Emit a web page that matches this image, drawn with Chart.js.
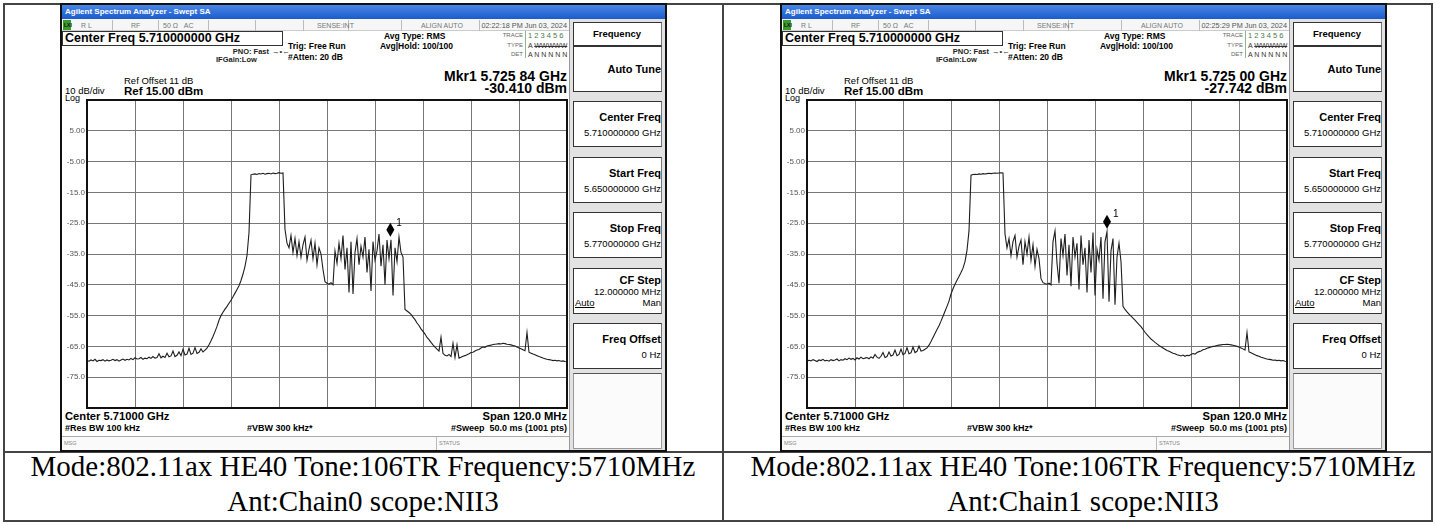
<!DOCTYPE html>
<html>
<head>
<meta charset="utf-8">
<script src="https://cdn.jsdelivr.net/npm/chart.js@4.4.1/dist/chart.umd.min.js"></script>
<style>
  body { margin: 0; background: #fff; width: 1436px; height: 525px; overflow: hidden; position: relative;
         font-family: "Liberation Sans", Arial, sans-serif; }
  .abs { position: absolute; white-space: nowrap; }
  .screen { position: absolute; top: 0; width: 720px; height: 525px; }
  canvas { position: absolute; left: 62px; top: 96px; }
</style>
</head>
<body>
<div class="abs" style="left:3px;top:3px;width:1430px;height:519px;box-sizing:border-box;border:2px solid #444;"></div>
<div class="abs" style="left:722px;top:3px;width:2px;height:519px;background:#444;"></div>
<div class="abs" style="left:3px;top:451px;width:1430px;height:2px;background:#444;"></div>
<div class="screen" id="scr0" style="left:0px"></div>
<div class="screen" id="scr1" style="left:720px"></div>
<script>
const freqStartMHz = 5650;
const freqStepMHz = 0.5;

const chain0Level = [
  -69.6,-69.8,-69.4,-69.7,-69.2,-69.9,-69.5,-69.6,-69.3,-69.8,
  -69.4,-69.7,-69.5,-69.2,-69.6,-69.3,-69.8,-69.4,-69.1,-69.5,
  -69.2,-69.4,-68.9,-69.3,-68.7,-69.1,-69.0,-68.6,-69.2,-68.8,
  -69.0,-68.5,-68.9,-68.3,-68.8,-68.6,-67.4,-68.7,-68.2,-68.6,
  -67.2,-68.4,-68.1,-66.5,-68.3,-67.9,-66.8,-68.0,-65.9,-67.8,
  -67.5,-65.6,-67.6,-67.2,-65.4,-67.3,-66.9,-65.8,-66.8,-66.2,
  -65.6,-64.5,-63.2,-61.8,-60.2,-58.5,-56.5,-55.0,-53.9,-52.9,
  -52.0,-51.0,-50.0,-48.9,-47.7,-46.5,-45.3,-43.6,-41.5,-39.0,
  -35.5,-28.0,-9.3,-9.1,-9.0,-9.2,-8.9,-9.0,-8.8,-9.1,
  -8.9,-8.8,-9.0,-8.7,-8.9,-8.8,-8.6,-8.8,-8.7,-27.0,
  -31.5,-33.0,-29.0,-34.5,-30.0,-35.5,-31.0,-36.0,-32.0,-29.5,
  -37.0,-33.5,-30.5,-36.5,-31.5,-38.5,-33.0,-35.0,-40.0,-44.0,
  -44.5,-44.8,-44.3,-45.0,-34.0,-38.0,-31.5,-36.5,-29.0,-40.0,
  -33.0,-47.5,-31.0,-48.0,-34.5,-30.0,-38.5,-32.5,-36.0,-29.5,
  -41.0,-33.5,-47.0,-31.0,-37.0,-34.0,-28.5,-39.0,-32.0,-45.0,
  -30.5,-36.5,-30.4,-48.5,-33.0,-37.5,-29.5,-34.5,-36.0,-53.0,
  -53.5,-54.0,-54.6,-55.5,-56.3,-57.4,-58.2,-59.3,-60.1,-61.0,
  -62.1,-62.8,-63.7,-64.5,-65.2,-65.9,-66.5,-62.0,-67.3,-67.9,
  -68.1,-67.6,-68.3,-64.0,-68.6,-64.5,-68.8,-68.5,-68.2,-68.0,
  -67.7,-67.4,-67.0,-66.9,-66.5,-66.2,-66.0,-65.5,-65.2,-65.3,
  -64.9,-64.7,-64.6,-64.4,-64.3,-64.2,-64.1,-64.2,-64.0,-64.1,
  -64.3,-64.4,-64.5,-64.7,-64.9,-65.2,-65.5,-65.8,-66.1,-66.4,
  -60.5,-66.9,-67.2,-67.5,-67.7,-68.0,-68.3,-68.5,-68.8,-69.0,
  -69.2,-69.3,-69.4,-69.6,-69.5,-69.7,-69.6,-69.8,-69.7,-69.9,
  -70.0
];

const chain1Level = [
  -69.8,-69.5,-69.7,-69.3,-69.6,-69.9,-69.4,-69.6,-69.2,-69.7,
  -69.5,-69.8,-69.3,-69.6,-69.4,-69.1,-69.7,-69.3,-69.5,-69.0,
  -69.3,-68.8,-69.2,-68.9,-69.4,-68.7,-69.1,-68.5,-69.0,-68.8,
  -68.6,-69.0,-68.4,-68.8,-67.6,-68.5,-68.9,-68.2,-67.0,-68.6,
  -68.3,-66.8,-68.1,-67.8,-66.2,-68.0,-67.6,-65.9,-67.7,-67.3,
  -65.4,-67.4,-67.1,-65.2,-67.0,-66.6,-64.9,-66.5,-66.3,-65.9,
  -65.5,-64.6,-63.4,-62.1,-60.8,-59.5,-58.3,-56.8,-55.2,-53.6,
  -52.0,-50.3,-48.0,-46.3,-44.8,-43.5,-42.3,-41.0,-39.6,-37.5,
  -33.8,-27.5,-9.4,-9.2,-9.1,-9.2,-9.0,-9.1,-8.9,-9.0,
  -8.9,-8.8,-8.9,-8.8,-8.7,-8.8,-8.7,-8.6,-8.7,-28.5,
  -33.0,-30.0,-35.5,-31.0,-29.0,-36.0,-32.5,-30.5,-38.5,-31.0,
  -35.0,-29.5,-37.0,-32.0,-39.0,-33.5,-36.5,-43.0,-44.3,-44.6,
  -44.8,-44.5,-45.0,-31.0,-27.5,-38.0,-44.5,-30.0,-35.5,-28.5,
  -42.0,-32.0,-45.5,-29.5,-36.0,-31.5,-46.5,-29.0,-38.5,-33.0,
  -47.5,-30.5,-41.0,-28.0,-48.5,-33.5,-37.0,-29.5,-49.5,-31.0,
  -27.8,-50.5,-34.0,-30.0,-51.5,-36.0,-31.5,-37.5,-52.0,-53.0,
  -53.8,-54.5,-55.2,-55.8,-56.5,-57.2,-57.9,-58.6,-59.5,-60.4,
  -61.2,-61.9,-62.6,-63.1,-63.7,-64.2,-64.7,-65.1,-65.5,-65.9,
  -66.3,-66.6,-66.9,-67.2,-67.4,-67.7,-67.9,-68.1,-67.8,-68.2,
  -67.9,-68.0,-67.6,-67.3,-67.5,-67.0,-66.7,-66.5,-66.1,-65.9,
  -65.6,-65.4,-65.2,-65.0,-64.9,-64.7,-64.6,-64.5,-64.4,-64.4,
  -64.3,-64.4,-64.5,-64.6,-64.8,-65.0,-65.2,-65.5,-65.8,-66.2,
  -60.5,-66.8,-67.1,-67.4,-67.7,-68.0,-68.2,-68.5,-68.7,-68.9,
  -69.1,-69.2,-69.3,-69.5,-69.4,-69.6,-69.5,-69.7,-69.6,-69.8,
  -69.9
];

const markerFreqMHz = [5725.84, 5725.00];
const markerLevel = [-30.41, -27.742];
const markerFreqText = ['5.725 84 GHz', '5.725 00 GHz'];
const markerLevelText = ['-30.410 dBm', '-27.742 dBm'];
const sweepTime = ['02:22:18 PM Jun 03, 2024', '02:25:29 PM Jun 03, 2024'];
const captionLine1 = ['Mode:802.11ax HE40 Tone:106TR Frequency:5710MHz', 'Mode:802.11ax HE40 Tone:106TR Frequency:5710MHz'];
const captionLine2 = ['Ant:Chain0 scope:NII3', 'Ant:Chain1 scope:NII3'];

function tx(x, yc, size, s, o = {}) {
  const lh = Math.round(size * 1.25);
  const top = Math.round(yc - lh / 2);
  let left = x, w = '', align = 'left';
  if (o.align === 'right') { left = x - 500; w = 'width:500px;'; align = 'right'; }
  if (o.align === 'center') { left = x - 500; w = 'width:1000px;'; align = 'center'; }
  return `<div class="abs" style="left:${left}px;top:${top}px;${w}text-align:${align};font-size:${size}px;line-height:${lh}px;` +
    `font-weight:${o.bold ? 'bold' : 'normal'};color:${o.color || '#000'};${o.css || ''}">${s}</div>`;
}
function box(x, y, w, h, css) {
  return `<div class="abs" style="left:${x}px;top:${y}px;width:${w}px;height:${h}px;box-sizing:border-box;${css}"></div>`;
}

function buildScreen(k) {
  let h = '';
  // frame + title bar
  h += box(60, 3, 607, 449, 'border:2px solid #111;background:#fff;');
  h += box(62, 5, 603, 14, 'background:linear-gradient(#4a86e6,#1a5ccc);');
  h += tx(65, 12, 8, 'Agilent Spectrum Analyzer - Swept SA', { bold: true, color: '#fff' });
  // status row
  h += box(62, 19, 507, 12, 'background:#f6f6f6;border-bottom:1px solid #ccc;');
  h += box(63, 20, 8, 10, 'background:#3a9a2a;');
  h += tx(64, 25, 5, 'LXI', { bold: true, color: '#111' });
  [112, 158, 208, 255, 303, 348, 401, 479].forEach(x => { h += box(x, 20, 1, 11, 'background:#bbb;'); });
  h += tx(81, 25, 7, 'R L', { color: '#777' });
  h += tx(131, 25, 7, 'RF', { color: '#777' });
  h += tx(163, 25, 7, '50 Ω&nbsp;&nbsp;&nbsp;AC', { color: '#777' });
  h += tx(317, 25, 7, 'SENSE:INT', { color: '#777' });
  h += tx(421, 25, 7, 'ALIGN AUTO', { color: '#777' });
  h += tx(567, 25, 7.3, sweepTime[k], { align: 'right', color: '#555' });
  // header texts
  h += box(62, 31, 221, 15, 'border:1px solid #333;');
  h += tx(65, 38, 12.5, 'Center Freq 5.710000000 GHz', { bold: true });
  h += tx(269, 51, 7.5, 'PNO: Fast', { bold: true, align: 'right', color: '#222' });
  h += tx(272, 51, 7.5, '&#8594;&#8226;&#8592;', { color: '#333' });
  h += tx(216, 59, 7.5, 'IFGain:Low', { bold: true, color: '#222' });
  h += tx(288, 46, 8.5, 'Trig: Free Run', { bold: true });
  h += tx(288, 57, 8.5, '#Atten: 20 dB', { bold: true });
  h += tx(384, 36, 8.5, 'Avg Type: RMS', { bold: true });
  h += tx(380, 46, 8.5, 'Avg|Hold: 100/100', { bold: true });
  // trace block
  h += box(525, 31, 1, 27, 'background:#8fb58f;');
  h += tx(523, 35, 6, 'TRACE', { align: 'right', color: '#666' });
  h += tx(523, 45, 6, 'TYPE', { align: 'right', color: '#666' });
  h += tx(523, 54, 6, 'DET', { align: 'right', color: '#666' });
  h += tx(528, 35, 7.5, '1 2 3 4 5 6', { color: '#4a7a4a' });
  h += tx(528, 45, 7, 'A <span style="text-decoration:line-through">WWWWW</span>', { color: '#333' });
  h += tx(528, 54, 7, 'A N N N N N', { color: '#333' });
  // marker readout
  h += tx(567, 76, 14, 'Mkr1 ' + markerFreqText[k], { bold: true, align: 'right' });
  h += tx(567, 88, 14, markerLevelText[k], { bold: true, align: 'right' });
  h += tx(124, 81, 9.5, 'Ref Offset 11 dB');
  h += tx(124, 91, 11.5, 'Ref 15.00 dBm', { bold: true });
  h += tx(65, 91, 9.5, '10 dB/div');
  h += tx(65, 98, 9, 'Log');
  // bottom annotations
  h += tx(65, 416, 11.2, 'Center 5.71000 GHz', { bold: true });
  h += tx(567, 416, 11.2, 'Span 120.0 MHz', { bold: true, align: 'right' });
  h += tx(65, 428, 9, '#Res BW 100 kHz', { bold: true });
  h += tx(247, 428, 9, '#VBW 300 kHz*', { bold: true });
  h += tx(567, 428, 9, '#Sweep&nbsp;&nbsp;50.0 ms (1001 pts)', { bold: true, align: 'right' });
  h += box(62, 436, 507, 14, 'border-top:1px solid #aaa;background:#fafafa;');
  h += box(436, 437, 1, 13, 'background:#bbb;');
  h += tx(64, 443, 5.5, 'MSG', { color: '#888' });
  h += tx(439, 443, 5.5, 'STATUS', { color: '#888' });
  // softkey panel
  h += box(569, 19, 96, 431, 'background:#e2e2e2;border-left:1px solid #999;');
  const key = 'background:#fff;border:1px solid #333;border-right-color:#777;';
  h += box(573, 22, 89, 24, key);
  h += tx(617, 34, 9.5, 'Frequency', { bold: true, align: 'center' });
  h += box(573, 46, 89, 46, key);
  h += tx(661, 69, 11, 'Auto Tune', { bold: true, align: 'right' });
  const keys = [
    [101, 'Center Freq', '5.710000000 GHz'],
    [157, 'Start Freq', '5.650000000 GHz'],
    [212, 'Stop Freq', '5.770000000 GHz'],
    [323, 'Freq Offset', '0 Hz']
  ];
  keys.forEach(([y, a, b]) => {
    h += box(573, y, 89, 46, key);
    h += tx(661, y + 16, 11, a, { bold: true, align: 'right' });
    h += tx(661, y + 32, 9.5, b, { align: 'right' });
  });
  h += box(573, 268, 89, 46, key);
  h += tx(661, 280, 11, 'CF Step', { bold: true, align: 'right' });
  h += tx(661, 292, 9.5, '12.000000 MHz', { align: 'right' });
  h += tx(575, 303, 9.5, 'Auto', { css: 'text-decoration:underline;' });
  h += tx(661, 303, 9.5, 'Man', { align: 'right' });
  h += box(573, 373, 89, 76, 'background:#fbfbfb;border:1px solid #999;border-top-color:#555;');
  // captions
  h += tx(363, 466, 29, captionLine1[k], { align: 'center', css: 'font-family:\'Liberation Serif\',serif;' });
  h += tx(363, 501, 29, captionLine2[k], { align: 'center', css: 'font-family:\'Liberation Serif\',serif;' });
  h += '<canvas id="plot' + k + '" width="508" height="316"></canvas>';
  document.getElementById('scr' + k).innerHTML = h;
}

const screenDecor = {
  id: 'screenDecor',
  afterDatasetsDraw(chart, args, opts) {
    const { ctx, chartArea: a, scales } = chart;
    ctx.save();
    ctx.strokeStyle = '#111';
    ctx.lineWidth = 2;
    ctx.strokeRect(a.left, a.top, a.right - a.left, a.bottom - a.top);
    const px = scales.x.getPixelForValue(opts.freq);
    const py = scales.y.getPixelForValue(opts.level);
    ctx.fillStyle = '#000';
    ctx.beginPath();
    ctx.moveTo(px, py - 17);
    ctx.lineTo(px + 4, py - 10);
    ctx.lineTo(px, py - 3);
    ctx.lineTo(px - 4, py - 10);
    ctx.closePath();
    ctx.fill();
    ctx.font = '10px "Liberation Sans"';
    ctx.textBaseline = 'middle';
    ctx.fillText('1', px + 6, py - 17);
    ctx.restore();
  }
};

function makeChart(k, levels) {
  const pts = levels.map((v, i) => ({ x: freqStartMHz + i * freqStepMHz, y: v }));
  new Chart(document.getElementById('plot' + k), {
    type: 'line',
    data: {
      datasets: [{
        data: pts,
        borderColor: '#1e1e1e',
        borderWidth: 1.1,
        pointRadius: 0,
        tension: 0,
        fill: false
      }]
    },
    options: {
      responsive: false,
      animation: false,
      layout: { padding: { top: 4, right: 3, bottom: 4, left: 0 } },
      plugins: {
        legend: { display: false },
        tooltip: { enabled: false },
        screenDecor: { freq: markerFreqMHz[k], level: markerLevel[k] }
      },
      scales: {
        x: {
          type: 'linear', min: 5650, max: 5770,
          ticks: { display: false, stepSize: 12 },
          grid: { color: '#777', drawTicks: false },
          border: { display: false },
          afterFit: s => { s.height = 0; s.paddingLeft = 0; s.paddingRight = 0; }
        },
        y: {
          min: -85, max: 15,
          ticks: {
            stepSize: 10, padding: 2, color: '#555',
            font: { size: 8, family: 'Liberation Sans' },
            callback: v => (v === 15 || v === -85) ? '' : (Math.abs(v) < 10 ? v.toFixed(2) : v.toFixed(1))
          },
          grid: { color: '#777', drawTicks: false },
          border: { display: false },
          afterFit: s => { s.width = 25; s.paddingTop = 0; s.paddingBottom = 0; }
        }
      }
    },
    plugins: [screenDecor]
  });
}

buildScreen(0);
buildScreen(1);
makeChart(0, chain0Level);
makeChart(1, chain1Level);
</script>
</body>
</html>
